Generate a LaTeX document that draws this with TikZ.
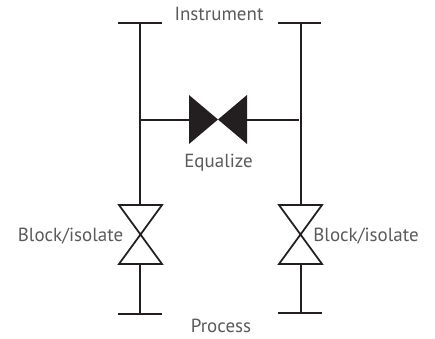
\documentclass[tikz,border=0pt]{standalone}
\usepackage{fontspec}
\setmainfont{PT Sans}
\definecolor{pipe}{HTML}{231F20}
\definecolor{labeltext}{HTML}{5A5A5A}
\tikzset{
  pipeline/.style={draw=pipe, line width=1pt},
  tag/.style={text=labeltext, inner sep=0pt, font=\fontsize{10.8}{13}\selectfont},
}
\begin{document}
\begin{tikzpicture}
  \useasboundingbox (0,0) rectangle (8.7,6.76);
  % left leg
  \coordinate (ltop) at (2.8,6.3);
  \coordinate (lvalvetop) at (2.8,2.66);
  \coordinate (lvalvebot) at (2.8,1.48);
  \coordinate (lbot) at (2.8,0.48);
  \coordinate (ltee) at (2.8,4.36);
  % right leg
  \coordinate (rtop) at (6.02,6.3);
  \coordinate (rvalvetop) at (6.02,2.66);
  \coordinate (rvalvebot) at (6.02,1.48);
  \coordinate (rbot) at (6.02,0.5);
  \coordinate (rtee) at (5.98,4.36);
  % equalizer
  \coordinate (eqleft) at (3.78,4.36);
  \coordinate (eqright) at (4.94,4.36);
  \draw[pipeline] (ltop) -- (lvalvetop);
  \draw[pipeline] (lvalvebot) -- (lbot);
  \draw[pipeline] (rtop) -- (rvalvetop);
  \draw[pipeline] (rvalvebot) -- (rbot);
  \draw[pipeline] (ltee) -- (eqleft);
  \draw[pipeline] (eqright) -- (rtee);
  \draw[pipeline] (2.36,6.3) -- (3.24,6.3);
  \draw[pipeline] (5.56,6.3) -- (6.42,6.3);
  \draw[pipeline] (2.36,0.48) -- (3.24,0.48);
  \draw[pipeline] (5.56,0.5) -- (6.44,0.5);
  \draw[pipeline, line join=miter] (2.38,2.66) -- (3.24,2.66) -- (2.38,1.48) -- (3.24,1.48) -- cycle;
  \draw[pipeline, line join=miter] (5.58,2.66) -- (6.44,2.66) -- (5.58,1.48) -- (6.44,1.48) -- cycle;
  \fill[pipe] (3.78,4.86) -- (4.94,3.88) -- (4.94,4.86) -- (3.78,3.88) -- cycle;
  \node[tag] (instrument) at (4.38,6.48) {Instrument};
  \node[tag] (equalize) at (4.37,3.5) {Equalize};
  \node[tag] (blockl) at (1.41,2.03) {Block/isolate};
  \node[tag] (blockr) at (7.32,2.03) {Block/isolate};
  \node[tag] (process) at (4.42,0.24) {Process};
\end{tikzpicture}
\end{document}
